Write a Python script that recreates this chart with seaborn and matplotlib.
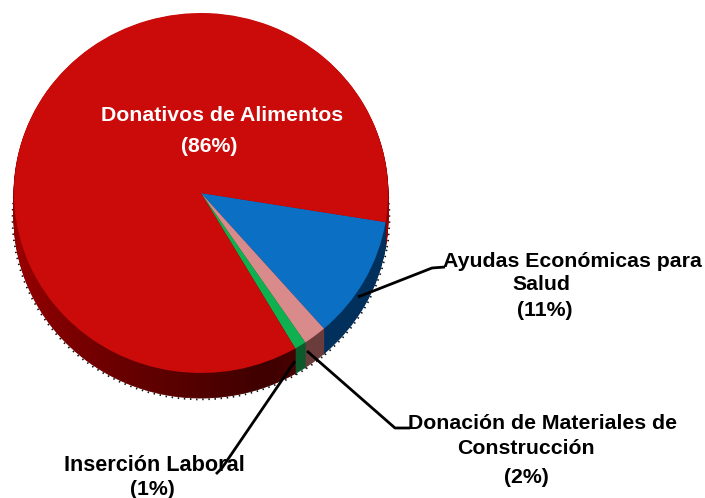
import numpy as np
import matplotlib
matplotlib.use("Agg")
import matplotlib.pyplot as plt
import seaborn as sns

categories = ["Ayudas Económicas para\nSalud", "Donación de Materiales de\nConstrucción", "Inserción Laboral", "Donativos de Alimentos"]
values = [11, 2, 1, 86]
percent_labels = ["(11%)", "(2%)", "(1%)", "(86%)"]
top_colors = ["#0b6fc4", "#d98a8a", "#0fb04f", "#cb0a0a"]
side_colors = ["#02305c", "#6b3c3c", "#0c5a2c"]

sns.set_theme(style="white")
plt.rcParams["font.family"] = ["Liberation Sans", "DejaVu Sans"]

W, H = 705, 498
cx, cy, rx, ry, depth = 201, 193, 187, 180, 25
fig = plt.figure(figsize=(W / 100, H / 100), dpi=100)
ax = fig.add_axes([0, 0, 1, 1])
start = -9.3

n_red = 150
def hexrgb(c):
    return np.array(matplotlib.colors.to_rgb(c))
red_cols = []
for t in np.linspace(0, 1, n_red):
    k = np.clip(abs(t - 0.03) / 0.30, 0, 1)
    red_cols.append(hexrgb("#3e0000") * (1 - k) + hexrgb("#960000") * k)
side_vals = values[:3] + [values[3] / n_red] * n_red
side_cols = side_colors + red_cols

# dotted rim beneath the extruded side
rim, _ = ax.pie(values, colors=["none"] * 4, startangle=start, counterclock=False,
                radius=1.008, center=(0, -depth / ry), frame=False)
for p in rim:
    p.set_facecolor("none")
    p.set_edgecolor("#111111")
    p.set_linestyle((0, (0.8, 2.6)))
    p.set_linewidth(1.3)
    p.set_zorder(0.5)

for d in np.arange(depth, 0, -1.0):
    w, _ = ax.pie(side_vals, colors=side_cols, startangle=start, counterclock=False,
                  radius=1, center=(0, -d / ry), frame=False, normalize=True,
                  wedgeprops=dict(linewidth=0.6))
    for p, col in zip(w, side_cols):
        p.set_edgecolor(col)

ax.pie(values, colors=top_colors, startangle=start, counterclock=False, radius=1,
       center=(0, 0), frame=False, wedgeprops=dict(linewidth=0))

ax.set_aspect("auto")
ax.set_xlim(-cx / rx, (W - cx) / rx)
ax.set_ylim(-(H - cy) / ry, cy / ry)
ax.set_axis_off()

def P(x, y):
    return (x - cx) / rx, (cy - y) / ry

def line(pts):
    a = np.array([P(*p) for p in pts])
    ax.plot(a[:, 0], a[:, 1], color="black", lw=2.0, solid_capstyle="butt", zorder=20, clip_on=False)

line([(358, 297), (432, 268), (445, 267)])
line([(307, 351), (395, 428), (410, 428)])
line([(295, 361), (222, 468), (216, 474)])

def T(x, y, s, color="black", size=15.3):
    ax.text(*P(x, y), s, ha="center", va="center", color=color, fontsize=size,
            fontweight="bold", zorder=25)

T(222, 115, categories[3], "white")
T(209, 146, percent_labels[3], "white")
a1, a2 = categories[0].split("\n")
T(572, 261, a1)
T(541, 284, a2)
T(545, 310, percent_labels[0])
b1, b2 = categories[1].split("\n")
T(542, 423, b1)
T(526, 448, b2)
T(526, 477, percent_labels[1])
T(154, 465, categories[2], size=15.6)
T(152, 489, percent_labels[2])

fig.savefig("out.png", dpi=100)
